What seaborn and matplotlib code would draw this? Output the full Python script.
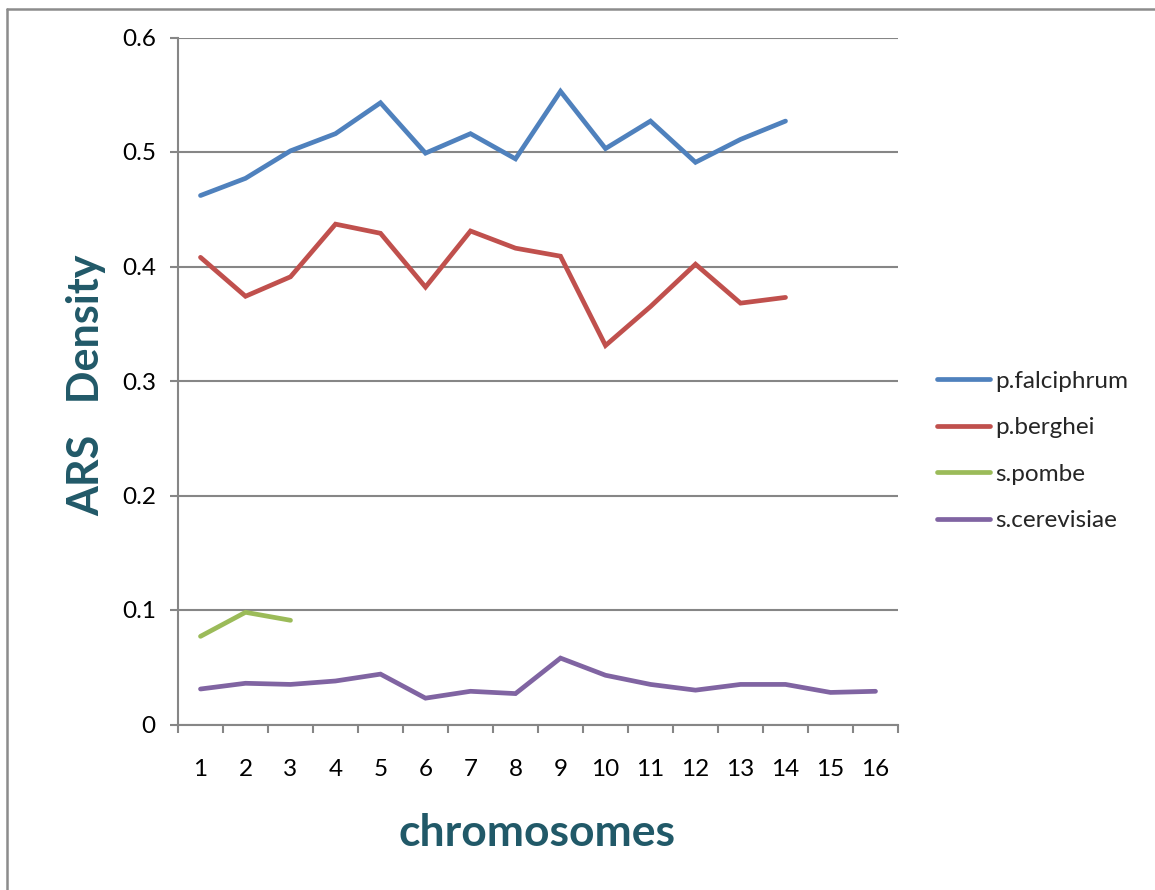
import numpy as np
import pandas as pd
import matplotlib
matplotlib.use("Agg")
import matplotlib.pyplot as plt
from matplotlib.lines import Line2D
from matplotlib.ticker import FixedLocator
import seaborn as sns

# ARS density per chromosome for each organism
chromosomes = list(range(1, 17))
p_falciphrum = [0.462, 0.477, 0.501, 0.516, 0.543, 0.499, 0.516, 0.494,
                0.553, 0.503, 0.527, 0.491, 0.511, 0.527]
p_berghei = [0.408, 0.374, 0.391, 0.437, 0.429, 0.382, 0.431, 0.416,
             0.409, 0.331, 0.365, 0.402, 0.368, 0.373]
s_pombe = [0.077, 0.098, 0.091]
s_cerevisiae = [0.031, 0.036, 0.035, 0.038, 0.044, 0.023, 0.029, 0.027,
                0.058, 0.043, 0.035, 0.030, 0.035, 0.035, 0.028, 0.029]
y_ticks = [0.0, 0.1, 0.2, 0.3, 0.4, 0.5, 0.6]
y_tick_labels = ["0", "0.1", "0.2", "0.3", "0.4", "0.5", "0.6"]

series = {
    "p.falciphrum": p_falciphrum,
    "p.berghei": p_berghei,
    "s.pombe": s_pombe,
    "s.cerevisiae": s_cerevisiae,
}
colors = ["#4F81BD", "#C0504D", "#9BBB59", "#8064A2"]

rows = []
for name, vals in series.items():
    for chrom, v in zip(chromosomes, vals):
        rows.append({"chromosome": chrom, "density": v, "species": name})
df = pd.DataFrame(rows)

sns.set_style("white")
plt.rcParams["font.family"] = ["Lato", "DejaVu Sans"]

fig = plt.figure(figsize=(11.55, 8.9), dpi=100)
ax = fig.add_axes([178 / 1155, 1 - 724.5 / 890, 720 / 1155, 687 / 890])

lw = 3.4
sns.lineplot(data=df, x="chromosome", y="density", hue="species",
             hue_order=list(series.keys()), palette=colors,
             linewidth=lw, ax=ax, legend=False, sort=False)
for ln in ax.lines:
    ln.set_solid_capstyle("round")
    ln.set_solid_joinstyle("miter")

grid_c = "#868686"
ax.set_xlim(0.5, 16.5)
ax.set_ylim(0, 0.6)
ax.yaxis.set_major_locator(FixedLocator(y_ticks))
ax.set_yticklabels(y_tick_labels)
ax.xaxis.set_major_locator(FixedLocator(chromosomes))
ax.set_xticklabels([str(c) for c in chromosomes])
ax.xaxis.set_minor_locator(FixedLocator(np.arange(0.5, 17, 1.0)))

ax.grid(axis="y", color=grid_c, linewidth=1.5)
ax.set_axisbelow(True)
for s in ["top", "right"]:
    ax.spines[s].set_visible(False)
for s in ["left", "bottom"]:
    ax.spines[s].set_color(grid_c)
    ax.spines[s].set_linewidth(1.5)

tick_fs = 17.5
ax.tick_params(axis="y", which="major", left=True, length=6, width=1.5,
               color=grid_c, pad=10, labelsize=tick_fs, labelcolor="black")
ax.tick_params(axis="x", which="major", bottom=False, length=0, pad=25,
               labelsize=tick_fs, labelcolor="black")
ax.tick_params(axis="x", which="minor", bottom=True, length=6, width=1.5,
               color=grid_c)

label_c = "#215968"
ax.set_xlabel("chromosomes", fontsize=32, fontweight="bold", color=label_c)
ax.set_ylabel("ARS   Density", fontsize=31, fontweight="bold", color=label_c)
ax.xaxis.set_label_coords((537 - 178) / 720, (724.5 - 833) / 687)
ax.xaxis.label.set_va("center")
ax.yaxis.set_label_coords((86 - 178) / 720, 0.5 - (385 - 381) / 687)
ax.yaxis.label.set_va("center")

handles = [Line2D([0], [0], color=c, linewidth=lw, solid_capstyle="round")
           for c in colors]
fig.legend(handles, list(series.keys()), loc="center left",
           bbox_to_anchor=(915 / 1155, 1 - 451 / 890), frameon=False,
           fontsize=tick_fs, handlelength=2.2, handletextpad=0.2,
           labelspacing=1.05, borderpad=0.4)

# outer chart frame
frame_c = "#8C8C8C"
fig.add_artist(Line2D([7 / 1155, 7 / 1155], [0, 1 - 9 / 890],
                      color=frame_c, linewidth=1.8, transform=fig.transFigure))
fig.add_artist(Line2D([7 / 1155, 1], [1 - 9 / 890, 1 - 9 / 890],
                      color=frame_c, linewidth=1.8, transform=fig.transFigure))

fig.savefig("out.png", dpi=100)
